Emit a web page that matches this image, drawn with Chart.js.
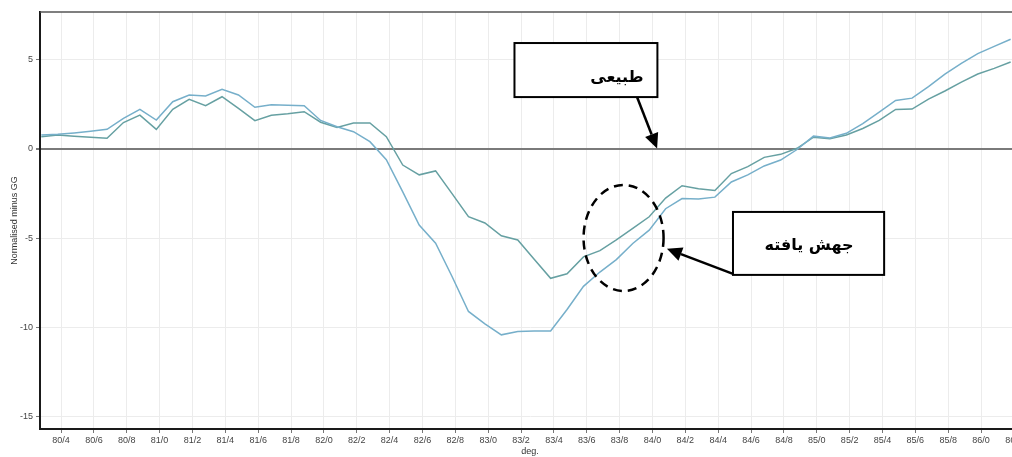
<!DOCTYPE html>
<html>
<head>
<meta charset="utf-8">
<script src="https://cdn.jsdelivr.net/npm/chart.js@4.4.1/dist/chart.umd.min.js"></script>
<style>
  html, body { margin: 0; padding: 0; background: #fff; overflow: hidden; }
  #wrap { width: 1030px; height: 457px; position: relative; }
</style>
</head>
<body>
<div id="wrap"><canvas id="myChart"></canvas></div>
<script>
// sample positions (deg.)
const degs = [80.28, 80.38, 80.48, 80.58, 80.68, 80.78, 80.88, 80.98, 81.08, 81.18,
  81.28, 81.38, 81.48, 81.58, 81.68, 81.78, 81.88, 81.98, 82.08, 82.18,
  82.28, 82.38, 82.48, 82.58, 82.68, 82.78, 82.88, 82.98, 83.08, 83.18,
  83.28, 83.38, 83.48, 83.58, 83.68, 83.78, 83.88, 83.98, 84.08, 84.18,
  84.28, 84.38, 84.48, 84.58, 84.68, 84.78, 84.88, 84.98, 85.08, 85.18,
  85.28, 85.38, 85.48, 85.58, 85.68, 85.78, 85.88, 85.98, 86.08, 86.18];

// blue trace (deep dip)
const lineA = [0.78, 0.82, 0.9, 1.0, 1.1, 1.72, 2.22, 1.62, 2.65, 3.03,
  2.97, 3.34, 3.03, 2.34, 2.48, 2.45, 2.43, 1.6, 1.25, 0.97,
  0.41, -0.6, -2.4, -4.26, -5.28, -7.15, -9.11, -9.8, -10.42, -10.23,
  -10.2, -10.2, -9.0, -7.7, -6.9, -6.2, -5.3, -4.55, -3.35, -2.78,
  -2.8, -2.7, -1.85, -1.45, -0.95, -0.62, -0.03, 0.72, 0.62, 0.88,
  1.42, 2.06, 2.72, 2.85, 3.5, 4.2, 4.8, 5.35, 5.75, 6.15];

// green trace (shallow dip)
const lineB = [0.69, 0.78, 0.72, 0.66, 0.6, 1.48, 1.9, 1.1, 2.22, 2.78,
  2.43, 2.93, 2.28, 1.59, 1.89, 1.97, 2.09, 1.5, 1.21, 1.45,
  1.46, 0.69, -0.9, -1.45, -1.23, -2.5, -3.8, -4.15, -4.87, -5.1,
  -6.18, -7.25, -7.0, -6.05, -5.7, -5.1, -4.45, -3.8, -2.75, -2.06,
  -2.23, -2.33, -1.38, -0.99, -0.47, -0.3, 0.04, 0.66, 0.58, 0.78,
  1.15, 1.6, 2.22, 2.24, 2.8, 3.25, 3.75, 4.2, 4.52, 4.88];

const xRange = [80.272, 86.237];
const yRange = [-15.7, 7.68];

const labelNormal = 'طبیعی';
const labelMutant = 'جهش یافته';

const textFont = '"Liberation Sans", Arial, sans-serif';

function fmtDeg(v) {
  const whole = Math.floor(v + 1e-6);
  const dec = Math.round((v - whole) * 10);
  return whole + '/' + dec;
}

function arrow(ctx, x1, y1, x2, y2) {
  const ang = Math.atan2(y2 - y1, x2 - x1);
  const headLen = 15, headW = 7;
  const bx = x2 - Math.cos(ang) * headLen;
  const by = y2 - Math.sin(ang) * headLen;
  ctx.beginPath();
  ctx.moveTo(x1, y1);
  ctx.lineTo(bx, by);
  ctx.stroke();
  ctx.beginPath();
  ctx.moveTo(x2, y2);
  ctx.lineTo(bx + Math.sin(ang) * headW, by - Math.cos(ang) * headW);
  ctx.lineTo(bx - Math.sin(ang) * headW, by + Math.cos(ang) * headW);
  ctx.closePath();
  ctx.fill();
}

function box(ctx, x, y, a, b) {
  const l = x.getPixelForValue(a[0]), r = x.getPixelForValue(b[0]);
  const t = y.getPixelForValue(a[1]), btm = y.getPixelForValue(b[1]);
  ctx.fillStyle = '#fff';
  ctx.fillRect(l, t, r - l, btm - t);
  ctx.strokeRect(l, t, r - l, btm - t);
}

// frame top line, callout boxes, arrows and the dashed ring
const notes = {
  id: 'notes',
  afterDatasetsDraw(chart) {
    const { ctx, chartArea, scales: { x, y } } = chart;
    ctx.save();
    ctx.strokeStyle = '#555';
    ctx.lineWidth = 1.5;
    ctx.beginPath();
    ctx.moveTo(chartArea.left, chartArea.top);
    ctx.lineTo(chartArea.right, chartArea.top);
    ctx.stroke();

    ctx.strokeStyle = '#000';
    ctx.fillStyle = '#000';
    ctx.lineWidth = 2.5;

    // arrow to the zero line
    arrow(ctx, x.getPixelForValue(83.906), y.getPixelForValue(2.91),
      x.getPixelForValue(84.028), y.getPixelForValue(0.03));
    // arrow to the ring
    arrow(ctx, x.getPixelForValue(84.49), y.getPixelForValue(-7.0),
      x.getPixelForValue(84.088), y.getPixelForValue(-5.6));

    ctx.lineWidth = 2;
    box(ctx, x, y, [83.16, 5.94], [84.03, 2.91]);
    box(ctx, x, y, [84.49, -3.53], [85.41, -7.06]);

    ctx.fillStyle = '#000';
    ctx.textAlign = 'center';
    ctx.textBaseline = 'middle';
    ctx.direction = 'rtl';
    ctx.font = 'bold 16px "DejaVu Sans", sans-serif';
    ctx.fillText(labelNormal, x.getPixelForValue(83.784), y.getPixelForValue(3.98));
    ctx.fillText(labelMutant, x.getPixelForValue(84.953), y.getPixelForValue(-5.43));

    // dashed ring
    const cx = x.getPixelForValue(83.824), cy = y.getPixelForValue(-4.99);
    const rx = x.getPixelForValue(83.824 + 0.2435) - cx;
    const ry = y.getPixelForValue(-4.99 - 2.97) - cy;
    ctx.setLineDash([9, 6]);
    ctx.lineWidth = 2.5;
    ctx.beginPath();
    ctx.ellipse(cx, cy, rx, ry, 0, 0, Math.PI * 2);
    ctx.stroke();
    ctx.restore();
  }
};

const ctx = document.getElementById('myChart');

new Chart(ctx, {
  type: 'line',
  data: {
    datasets: [{
      label: 'A',
      data: degs.map((d, i) => ({ x: d, y: lineA[i] })),
      borderColor: '#76afca',
      borderWidth: 1.5,
      pointRadius: 0,
      tension: 0
    }, {
      label: 'B',
      data: degs.map((d, i) => ({ x: d, y: lineB[i] })),
      borderColor: '#66a0a2',
      borderWidth: 1.5,
      pointRadius: 0,
      tension: 0
    }]
  },
  options: {
    responsive: true,
    maintainAspectRatio: false,
    animation: false,
    layout: { padding: { top: 12, right: 10, left: 0, bottom: 0 } },
    plugins: {
      legend: { display: false },
      tooltip: { enabled: false }
    },
    scales: {
      x: {
        type: 'linear',
        min: xRange[0],
        max: xRange[1],
        afterFit: s => { s.height = 28; },
        border: { display: true, color: '#1a1a1a', width: 2 },
        grid: { color: '#ececec', lineWidth: 1, tickLength: 4, tickColor: '#777' },
        ticks: {
          stepSize: 0.2,
          includeBounds: false,
          autoSkip: false,
          maxRotation: 0,
          padding: 2,
          color: '#444',
          font: { family: textFont, size: 9 },
          callback: v => fmtDeg(v)
        },
        title: {
          display: true,
          text: 'deg.',
          color: '#333',
          padding: 0,
          font: { family: textFont, size: 9 }
        }
      },
      y: {
        min: yRange[0],
        max: yRange[1],
        afterFit: s => { s.width = 40; },
        border: { display: true, color: '#1a1a1a', width: 2 },
        grid: {
          color: c => (c.tick && c.tick.value === 0) ? '#7a7a7a' : '#ececec',
          lineWidth: c => (c.tick && c.tick.value === 0) ? 2 : 1,
          tickLength: 4,
          tickColor: '#777'
        },
        ticks: {
          stepSize: 5,
          includeBounds: false,
          padding: 3,
          color: '#444',
          font: { family: textFont, size: 9 }
        },
        title: {
          display: true,
          text: 'Normalised minus GG',
          color: '#333',
          padding: { top: 9, bottom: 0 },
          font: { family: textFont, size: 9 }
        }
      }
    }
  },
  plugins: [notes]
});
</script>
</body>
</html>
